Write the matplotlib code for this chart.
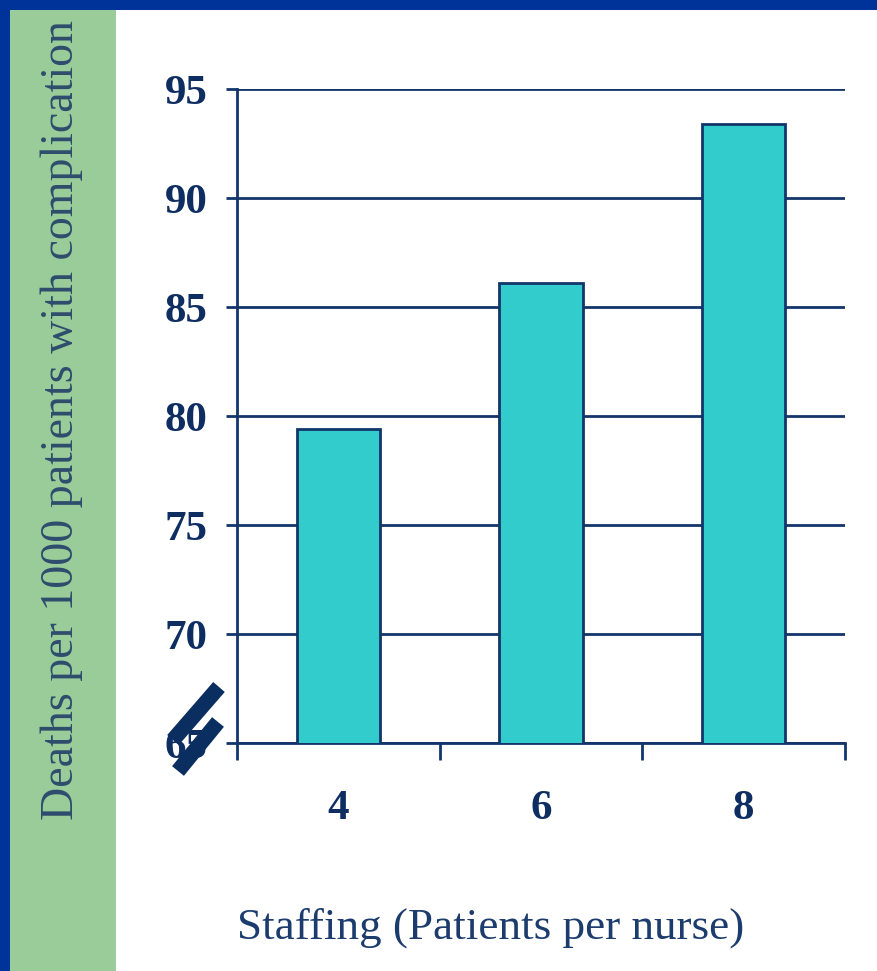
import matplotlib
matplotlib.use("Agg")
import matplotlib.pyplot as plt
from matplotlib.patches import Rectangle
from matplotlib.lines import Line2D
from matplotlib.ticker import FixedLocator, NullFormatter

# Data
staffing = ["4", "6", "8"]
deaths_per_1000 = [79.4, 86.1, 93.4]
y_ticks = [65, 70, 75, 80, 85, 90, 95]

NAVY = "#12356a"
TEXT_NAVY = "#0e2e62"
BAR_FILL = "#33cccc"
BORDER_BLUE = "#003399"
BAND_GREEN = "#99cc99"

W, H = 877, 971
fig = plt.figure(figsize=(W / 100, H / 100), dpi=100)
fig.patch.set_facecolor("white")

def px(x, y):
    return x / W, 1 - y / H

# Green side band behind the y-axis title
fig.patches.append(Rectangle((0, 0), 116 / W, 1, transform=fig.transFigure,
                             facecolor=BAND_GREEN, edgecolor="none", zorder=0))

ax = fig.add_axes([237 / W, 1 - 743 / H, (845 - 237) / W, (743 - 89) / H])
ax.set_facecolor("none")

x = list(range(len(staffing)))
ax.bar(x, deaths_per_1000, width=0.41, bottom=0, color=BAR_FILL,
       edgecolor=NAVY, linewidth=2.0, zorder=3)

ax.set_ylim(65, 95)
ax.set_xlim(-0.5, len(staffing) - 0.5)

ax.set_yticks(y_ticks)
ax.set_yticklabels([str(v) for v in y_ticks])
ax.yaxis.grid(True, color=NAVY, linewidth=2.0, zorder=1)
ax.set_axisbelow(True)

# Category separators as major ticks, labels on minor ticks
ax.xaxis.set_major_locator(FixedLocator([i - 0.5 for i in range(len(staffing) + 1)]))
ax.xaxis.set_major_formatter(NullFormatter())
ax.xaxis.set_minor_locator(FixedLocator(x))
ax.set_xticklabels(staffing, minor=True)

for s in ("top", "right"):
    ax.spines[s].set_visible(False)
for s in ("left", "bottom"):
    ax.spines[s].set_color(NAVY)
    ax.spines[s].set_linewidth(2.0)

ax.tick_params(axis="x", which="major", direction="out", length=12, width=2.0, color=NAVY)
ax.tick_params(axis="x", which="minor", length=0, pad=34,
               labelsize=31, labelcolor=TEXT_NAVY)
ax.tick_params(axis="y", direction="out", length=8, width=2.0, color=NAVY,
               pad=13, labelsize=31, labelcolor=TEXT_NAVY)
for lab in ax.get_xticklabels(minor=True) + ax.get_yticklabels():
    lab.set_fontfamily("Liberation Serif")
    lab.set_fontweight("bold")

# Axis titles
fig.text(*px(491, 928), "Staffing (Patients per nurse)", ha="center", va="center",
         fontsize=32.5, color="#1b3c6c", family="Liberation Serif")
fig.text(*px(73, 820), "Deaths per 1000 patients with complication",
         rotation=90, ha="left", va="baseline", rotation_mode="anchor",
         fontsize=33, color="#2e4c6c", family="Liberation Serif", zorder=3)

# Axis-break marks over the lower end of the y axis
for (x0, y0), (x1, y1) in [((173, 740), (219, 687)), ((178, 771), (218, 722))]:
    (fx0, fy0), (fx1, fy1) = px(x0, y0), px(x1, y1)
    fig.lines.append(Line2D([fx0, fx1], [fy0, fy1], transform=fig.transFigure,
                            color="#0a2e60", linewidth=11, solid_capstyle="butt",
                            zorder=5))

# Blue slide frame on the left and top edges
fig.patches.append(Rectangle((0, 0), 10 / W, 1, transform=fig.transFigure,
                             facecolor=BORDER_BLUE, edgecolor="none", zorder=10))
fig.patches.append(Rectangle((0, 1 - 10 / H), 1, 10 / H, transform=fig.transFigure,
                             facecolor=BORDER_BLUE, edgecolor="none", zorder=10))

fig.savefig("out.png", dpi=100, facecolor=fig.get_facecolor())
